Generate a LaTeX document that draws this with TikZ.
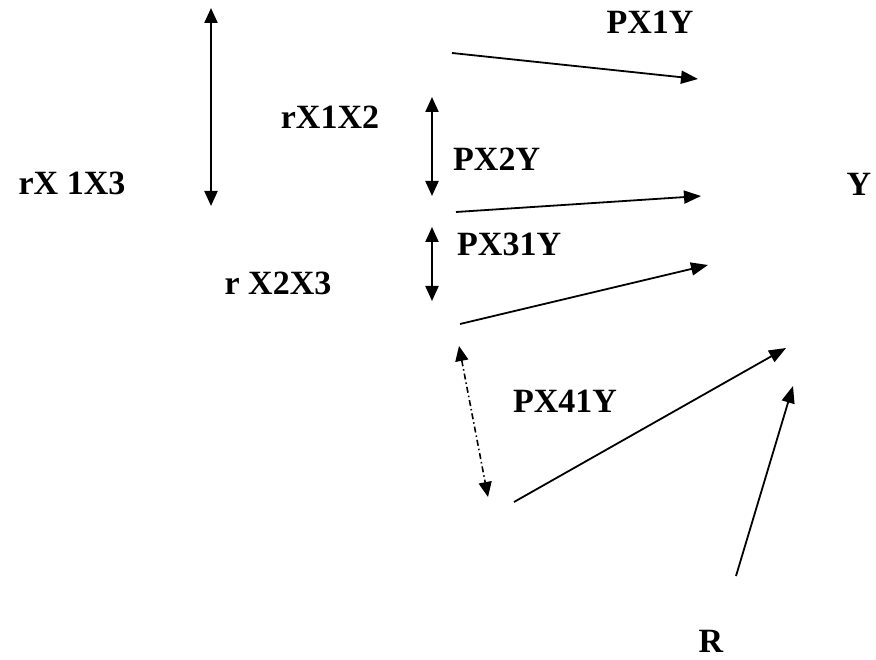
\documentclass[tikz,border=0pt]{standalone}
\usepackage{fontspec}
\setmainfont{Liberation Serif}
\usetikzlibrary{arrows.meta}
\begin{document}
\begin{tikzpicture}[x=1pt,y=-1pt,
  lbl/.style={font=\fontsize{34}{38}\selectfont\bfseries, inner sep=0pt},
  tip/.style={-{Triangle[length=17pt,width=13pt]}},
  twotip/.style={{Triangle[length=15pt,width=13pt]}-{Triangle[length=15pt,width=13pt]}},
  path/.style={line width=1.8pt, tip},
  corr/.style={line width=2.2pt, twotip}]
\useasboundingbox (0,0) rectangle (876,660);

% labels
\node[lbl] (r13) at (72,183) {rX 1X3};
\node[lbl] (r12) at (330,117) {rX1X2};
\node[lbl] (r23) at (278,283) {r X2X3};
\node[lbl] (p1) at (650,22) {PX1Y};
\node[lbl, anchor=west] (p2) at (453,159) {PX2Y};
\node[lbl, anchor=west] (p3) at (457,244) {PX31Y};
\node[lbl] (p4) at (565,401) {PX41Y};
\node[lbl] (y) at (859,184) {Y};
\node[lbl] (r) at (711,641) {R};

% end points of the connectors
\coordinate (a13t) at (211,8);
\coordinate (a13b) at (211,206);
\coordinate (a12t) at (432,97);
\coordinate (a12b) at (432,196);
\coordinate (a23t) at (432,227);
\coordinate (a23b) at (432,301);
\coordinate (a4t) at (459,346);
\coordinate (a4b) at (488,497);
\coordinate (s1) at (452,53);
\coordinate (e1) at (698,79);
\coordinate (s2) at (456,212);
\coordinate (e2) at (701,196);
\coordinate (s3) at (460,324);
\coordinate (e3) at (708,265);
\coordinate (s4) at (514,502);
\coordinate (e4) at (786,348);
\coordinate (sr) at (736,576);
\coordinate (er) at (793,386);

% correlations
\draw[corr] (a13t) -- (a13b);
\draw[corr] (a12t) -- (a12b);
\draw[corr] (a23t) -- (a23b);
\draw[line width=1.6pt, twotip, dash pattern=on 6pt off 3pt on 1.5pt off 3pt] (a4t) -- (a4b);

% paths to Y
\draw[path] (s1) -- (e1);
\draw[path] (s2) -- (e2);
\draw[path] (s3) -- (e3);
\draw[path] (s4) -- (e4);
\draw[path] (sr) -- (er);
\end{tikzpicture}
\end{document}
